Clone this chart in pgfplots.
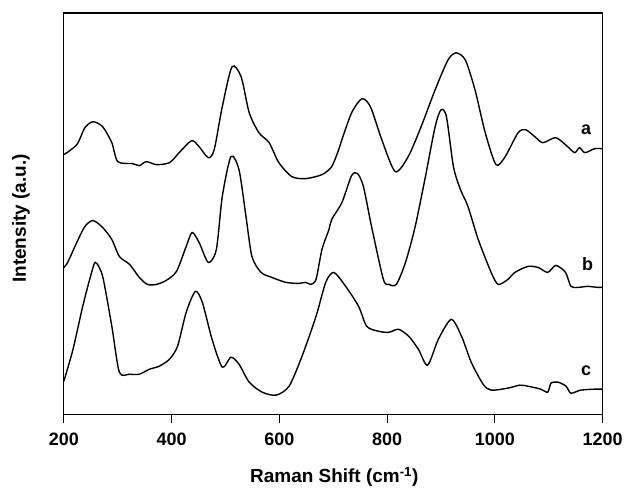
\documentclass[border=0pt]{standalone}
\usepackage{pgfplots}
\pgfplotsset{compat=1.18}
\usepackage{fontspec}
\setmainfont{Liberation Sans}

\begin{document}
\begin{tikzpicture}
\begin{axis}[
    scale only axis,
    width=540pt, height=402pt,
    xmin=200, xmax=1200, ymin=5, ymax=407,
    xtick={200,400,600,800,1000,1200},
    minor xtick={200,400,600,800,1000,1200},
    ytick=\empty,
    tick pos=left,
    tick align=outside,
    tick style={line width=1.1pt, black},
    major tick length=0pt, minor tick length=9pt,
    axis line style={line width=1.1pt},
    xticklabel style={font=\fontsize{18}{21}\selectfont\bfseries, yshift=-15pt},
    /pgf/number format/assume math mode=true,
    /pgf/number format/set thousands separator={},
    spec/.style={black, no markers, line width=1.4pt, smooth, tension=0.45},
    clip=false,
]
% curve a
\addplot[spec] coordinates {
(200,265) (224,275) (239,292) (254,298) (272,293) (289,277) (300,258)
(328,256) (340,254) (353,258) (372,255) (396,257) (414,267) (437,279)
(451,273) (468,262) (479,270) (494,313) (512,353) (529,343) (544,307)
(562,287) (581,277) (599,257) (623,243) (649,241) (679,245) (697,253)
(710,270) (716,280) (734,307) (753,321) (769,313) (790,280) (815,248)
(839,263) (863,293) (889,330) (913,360) (928,367) (945,360) (963,330)
(982,287) (1002,255) (1019,263) (1043,287) (1057,290) (1074,283) (1089,277)
(1113,282) (1135,273) (1148,267) (1157,272) (1167,267) (1185,271) (1200,271)
};
% curve b
\addplot[spec] coordinates {
(200,152) (207,157) (224,177) (239,193) (254,199) (272,192) (289,180)
(303,163) (322,155) (340,142) (355,135) (372,135) (390,139) (409,148)
(427,173) (438,187) (451,177) (468,157) (483,170) (494,223) (510,263)
(525,250) (538,203) (549,163) (566,147) (586,142) (612,137) (636,136)
(649,137) (658,135) (668,140) (679,170) (692,190) (697,200) (716,217)
(734,244) (745,246) (756,233) (771,193) (793,140) (803,135) (817,135)
(834,157) (852,193) (871,243) (889,293) (900,310) (910,303) (923,253)
(936,230) (950,213) (969,180) (993,147) (1006,135) (1024,140) (1037,147)
(1061,153) (1080,152) (1098,147) (1113,154) (1131,147) (1141,133) (1154,132)
(1172,133) (1191,132) (1200,132)
};
% curve c
\addplot[spec] coordinates {
(200,38) (217,70) (235,113) (252,148) (259,157) (272,143) (289,93)
(303,47) (322,45) (340,45) (359,50) (377,53) (396,60) (411,73)
(427,107) (444,128) (457,117) (475,80) (494,52) (510,62) (525,55)
(544,37) (568,27) (594,24) (618,33) (642,63) (668,103) (686,137)
(701,147) (723,133) (747,113) (762,93) (784,88) (803,87) (821,90)
(840,83) (858,70) (875,54) (895,80) (919,100) (938,83) (956,57)
(978,35) (993,29) (1024,31) (1046,34) (1061,33) (1085,30) (1098,27)
(1104,36) (1117,37) (1132,33) (1141,26) (1159,29) (1185,30) (1200,30)
};
\node[font=\fontsize{18}{20}\selectfont\bfseries] at (axis cs:1169,290) {a};
\node[font=\fontsize{18}{20}\selectfont\bfseries] at (axis cs:1172,155) {b};
\node[font=\fontsize{18}{20}\selectfont\bfseries] at (axis cs:1169,48) {c};
\end{axis}
% second axis only for the short minor ticks
\begin{axis}[
    scale only axis,
    width=540pt, height=402pt,
    xmin=200, xmax=1200, ymin=5, ymax=407,
    xtick=\empty, ytick=\empty,
    minor xtick={300,500,700,900,1100},
    tick pos=left,
    tick align=outside,
    tick style={line width=1.1pt, black},
    minor tick length=5pt,
    axis line style={draw=none},
]
\end{axis}
\node[rotate=90, font=\fontsize{19}{22}\selectfont\bfseries] at (-43pt,196pt) {Intensity (a.u.)};
\node[anchor=base, font=\fontsize{19}{22}\selectfont\bfseries] at (271pt,-69pt) {Raman Shift (cm\textsuperscript{-1})};
\path[use as bounding box] (-64pt,-73pt) rectangle (562pt,415pt);
\end{tikzpicture}
\end{document}
